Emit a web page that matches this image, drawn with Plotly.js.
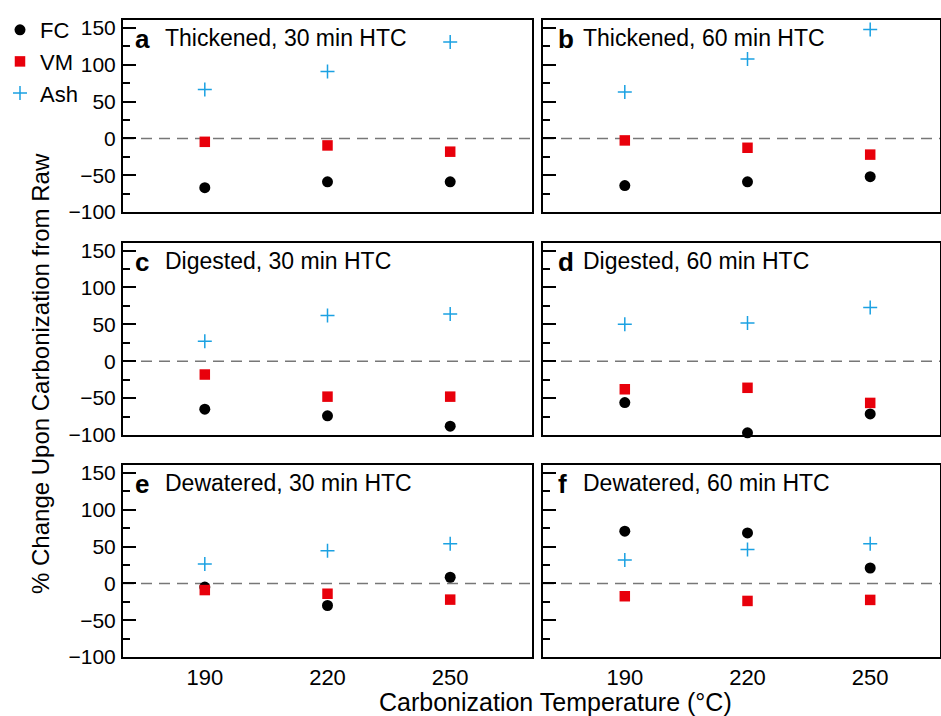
<!DOCTYPE html>
<html>
<head>
<meta charset="utf-8">
<script src="https://cdn.plot.ly/plotly-3.0.1.min.js"></script>
<style>
  html, body { margin: 0; padding: 0; background: #fff; }
  #chart { width: 941px; height: 716px; }
</style>
</head>
<body>
<div id="chart"></div>
<script>
// ---------- data ----------
const temps = [190, 220, 250];
const tickLabels = ["190", "220", "250"];
const seriesNames = ["FC", "VM", "Ash"];

const fc_a = [-67, -59, -59];
const vm_a = [-4.6, -9.5, -18];
const ash_a = [66.5, 91, 131];

const fc_b = [-64, -59, -52];
const vm_b = [-2.7, -12.7, -22];
const ash_b = [63, 108, 148];

const fc_c = [-65, -74, -88];
const vm_c = [-18, -48, -48];
const ash_c = [27, 62, 64];

const fc_d = [-56, -97, -71.5];
const vm_d = [-38, -36, -56.5];
const ash_d = [50, 52, 73];

const fc_e = [-5, -30, 8.4];
const vm_e = [-9, -14, -22];
const ash_e = [26.5, 44.5, 54];

const fc_f = [71, 68.6, 21];
const vm_f = [-17.4, -23.8, -22.4];
const ash_f = [32, 46, 54];

const panelLetters = ["a", "b", "c", "d", "e", "f"];
const panelTitles = ["Thickened, 30 min HTC", "Thickened, 60 min HTC",
                     "Digested, 30 min HTC", "Digested, 60 min HTC",
                     "Dewatered, 30 min HTC", "Dewatered, 60 min HTC"];
const panelData = [
  [fc_a, vm_a, ash_a], [fc_b, vm_b, ash_b],
  [fc_c, vm_c, ash_c], [fc_d, vm_d, ash_d],
  [fc_e, vm_e, ash_e], [fc_f, vm_f, ash_f]
];

// ---------- layout geometry (pixels) ----------
const W = 941, H = 716;
const colPx = [[123, 532], [543, 940]];
const rowPx = [[20, 212], [242.5, 435], [465, 657]];
const px = v => v / W;
const py = v => 1 - v / H;
const FONT = "Liberation Sans, Arial, sans-serif";

const colors = { FC: "#000000", VM: "#e8000b", Ash: "#1ba1e2" };

const traces = [];
const layout = {
  width: W, height: H,
  margin: { l: 0, r: 0, t: 0, b: 0 },
  paper_bgcolor: "#ffffff", plot_bgcolor: "#ffffff",
  font: { family: FONT, color: "#000", size: 21 },
  showlegend: true,
  legend: {
    x: 0, y: py(9), xanchor: "left", yanchor: "top",
    bgcolor: "rgba(0,0,0,0)", borderwidth: 0,
    font: { family: FONT, size: 22, color: "#000" },
    itemwidth: 30, tracegroupgap: 0
  },
  shapes: [], annotations: []
};

for (let i = 0; i < 6; i++) {
  const r = Math.floor(i / 2), c = i % 2;
  const n = i === 0 ? "" : String(i + 1);
  const xa = "xaxis" + n, ya = "yaxis" + n;
  const xr = "x" + n, yr = "y" + n;
  const [x0, x1] = colPx[c];
  const [yt, yb] = rowPx[r];
  const xw = x1 - x0;
  const unit = 409 / 100; // px per degree, same scale both columns
  layout[xa] = {
    domain: [px(x0), px(x1)],
    range: [170, 170 + xw / unit],
    anchor: yr,
    showgrid: false, zeroline: false,
    showline: true, mirror: true, linewidth: 2, linecolor: "#000",
    ticks: "", tickvals: temps, ticktext: tickLabels,
    showticklabels: r === 2,
    ticklabelstandoff: 0,
    tickfont: { family: FONT, size: 22, color: "#000" }
  };
  layout[ya] = {
    domain: [py(yb), py(yt)],
    range: [-100, 161],
    anchor: xr,
    showgrid: false, zeroline: false,
    showline: true, mirror: true, linewidth: 2, linecolor: "#000",
    ticks: "inside", ticklen: 13, tickwidth: 2, tickcolor: "#000",
    tick0: 0, dtick: 50,
    minor: { dtick: 25, ticks: "inside", ticklen: 7, tickwidth: 2, tickcolor: "#000" },
    showticklabels: c === 0,
    ticklabelstandoff: 1,
    tickfont: { family: FONT, size: 21, color: "#000" }
  };
  // dashed zero line
  layout.shapes.push({
    type: "line", xref: xr + " domain", yref: yr,
    x0: 0, x1: 1, y0: 0, y1: 0,
    line: { color: "#777", width: 1.5, dash: "11px,7px" },
    layer: "below"
  });
  // panel labels
  layout.annotations.push({
    xref: "paper", yref: "paper",
    x: px(x0 + (c === 0 ? 10 : 13)), y: py(yt + 19),
    xanchor: "left", yanchor: "middle", showarrow: false,
    text: "<b>" + panelLetters[i] + "</b>",
    font: { family: FONT, size: 26, color: "#000" }
  });
  layout.annotations.push({
    xref: "paper", yref: "paper",
    x: px(x0 + (c === 0 ? 40 : 38)), y: py(yt + 18),
    xanchor: "left", yanchor: "middle", showarrow: false,
    text: panelTitles[i],
    font: { family: FONT, size: 23, color: "#000" }
  });

  const [fc, vm, ash] = panelData[i];
  traces.push({
    type: "scatter", mode: "markers", x: temps, y: fc, xaxis: xr, yaxis: yr,
    name: seriesNames[0], legendgroup: "FC", showlegend: i === 0,
    marker: { symbol: "circle", size: 11, color: colors.FC },
    cliponaxis: false, hoverinfo: "skip"
  });
  traces.push({
    type: "scatter", mode: "markers", x: temps, y: vm, xaxis: xr, yaxis: yr,
    name: seriesNames[1], legendgroup: "VM", showlegend: i === 0,
    marker: { symbol: "square", size: 10.5, color: colors.VM },
    cliponaxis: false, hoverinfo: "skip"
  });
  traces.push({
    type: "scatter", mode: "markers", x: temps, y: ash, xaxis: xr, yaxis: yr,
    name: seriesNames[2], legendgroup: "Ash", showlegend: i === 0,
    marker: { symbol: "cross-thin", size: 10, color: colors.Ash,
              line: { color: colors.Ash, width: 1.5 } },
    cliponaxis: false, hoverinfo: "skip"
  });
}

// axis titles
layout.annotations.push({
  xref: "paper", yref: "paper", x: px(40), y: py(374),
  xanchor: "center", yanchor: "middle", showarrow: false, textangle: -90,
  text: "% Change Upon Carbonization from Raw",
  font: { family: FONT, size: 24, color: "#000" }
});
layout.annotations.push({
  xref: "paper", yref: "paper", x: px(555), y: py(702),
  xanchor: "center", yanchor: "middle", showarrow: false,
  text: "Carbonization Temperature (°C)",
  font: { family: FONT, size: 25, color: "#000" }
});

Plotly.newPlot("chart", traces, layout, { staticPlot: true, displayModeBar: false });
</script>
</body>
</html>
